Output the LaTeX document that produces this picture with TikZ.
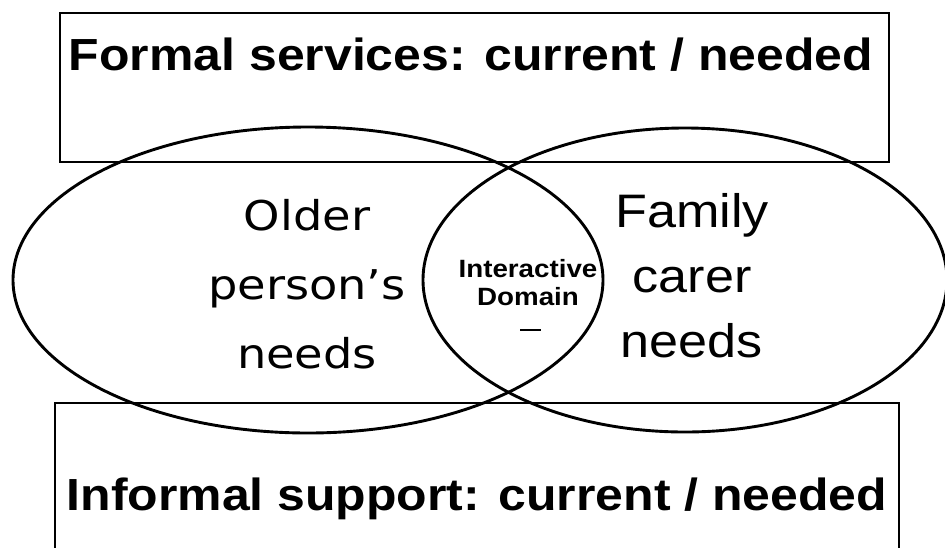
\documentclass[tikz,border=0pt]{standalone}
\usepackage{fontspec}
\setmainfont{Liberation Sans}
\newfontfamily\boxfont[FakeStretch=1.11]{Liberation Sans}
\newfontfamily\olderfont[FakeStretch=1.13]{DejaVu Sans}
\usetikzlibrary{shapes.geometric}

\begin{document}
\begin{tikzpicture}[x=1pt, y=-1pt,
  outline/.style={black, line width=2.9pt},
  venn/.style={outline, draw, ellipse, inner sep=0pt},
  heading/.style={font=\boxfont\bfseries\fontsize{45}{50}\selectfont, inner sep=0pt, anchor=base},
  needs/.style={align=center, inner sep=0pt, anchor=base}]
  \useasboundingbox (0,0) rectangle (945,547);
  \clip (0,0) rectangle (945,547);
  % Boxes: formal (top), informal (bottom, runs off the page)
  \draw[outline] (60,13) rectangle (889,162);
  \draw[outline] (55,403) rectangle (899,570);
  \node[heading] (formal) at (471,70) {Formal services: current / needed};
  \node[heading] (informal) at (477,510) {Informal support: current / needed};
  % The two needs ellipses
  \node[venn, minimum width=590, minimum height=306] (older) at (308,280) {};
  \node[venn, minimum width=524, minimum height=304] (carer) at (685,280) {};
  % base anchor sits on the last line
  \node[needs, font=\olderfont\fontsize{41}{69}\selectfont] (olderlbl) at (307,368) {Older\\person’s\\needs};
  \node[needs, font=\boxfont\fontsize{47}{65}\selectfont] (carerlbl) at (692,357) {Family\\carer\\needs};
  % Overlap
  \node[needs, font=\boxfont\bfseries\fontsize{25}{28}\selectfont] (domain) at (528,305) {Interactive\\Domain};
  \draw[line width=1.2pt] (520,330) -- (541,330);
\end{tikzpicture}
\end{document}
